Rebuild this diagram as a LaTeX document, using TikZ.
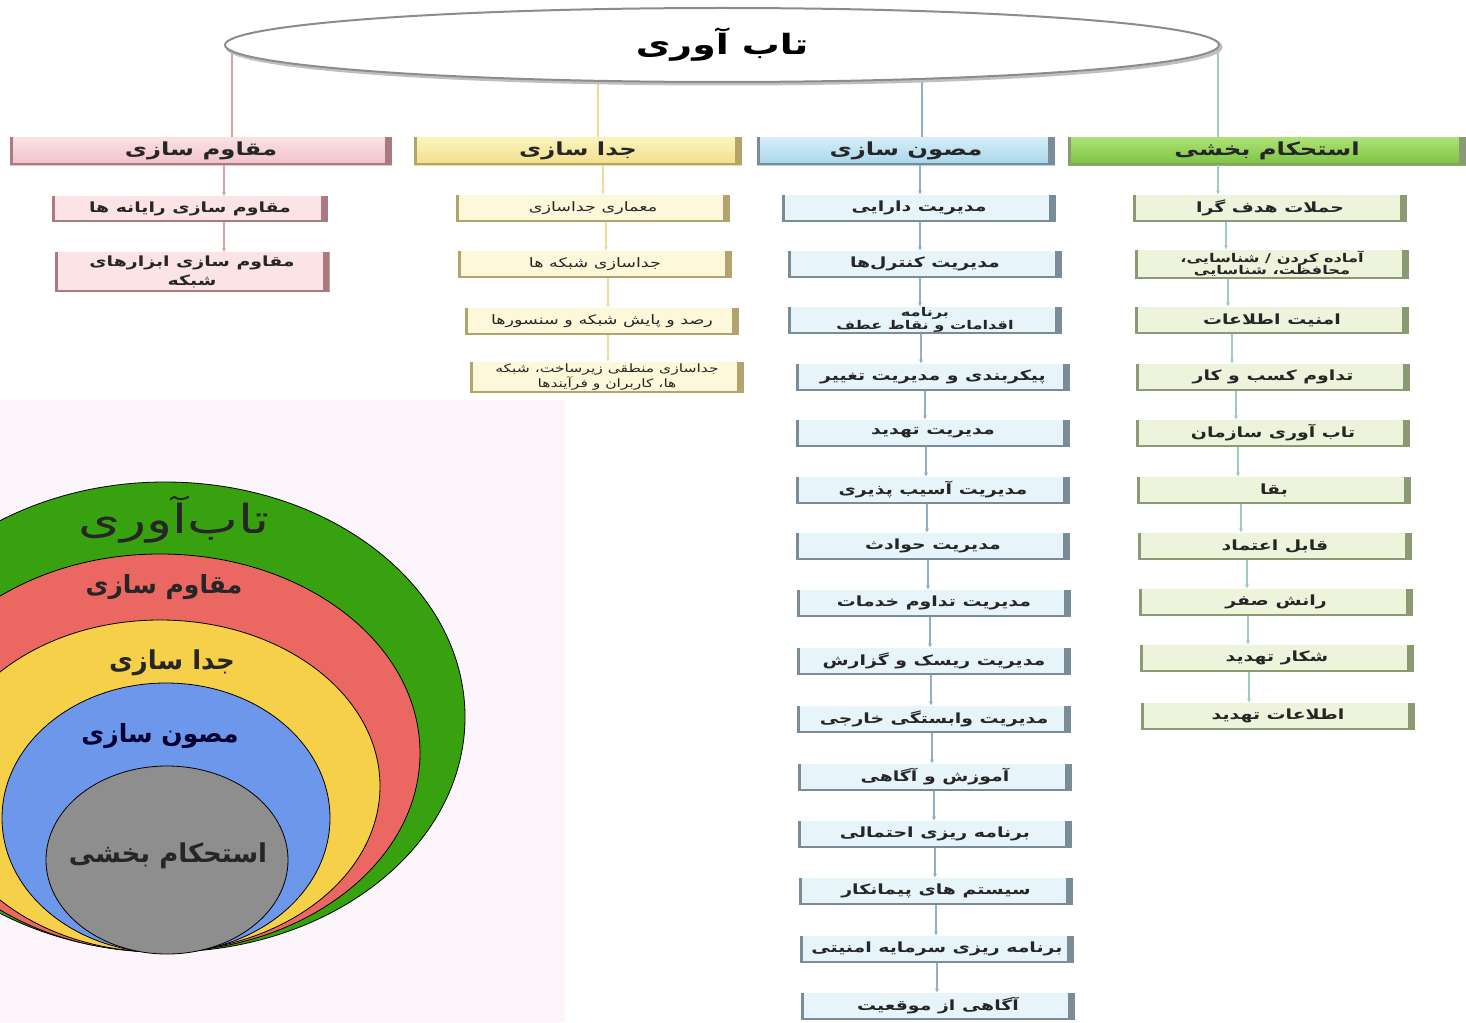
\documentclass[tikz,border=0pt]{standalone}
\usepackage{fontspec}
\usetikzlibrary{shapes.geometric, arrows.meta, backgrounds}
\TeXXeTstate=1
\newfontfamily\arabicfont[Script=Arabic]{DejaVu Sans}
\newfontfamily\widefont[Script=Arabic, FakeStretch=1.35]{DejaVu Sans}
\newcommand{\fatext}[1]{\beginR #1\endR}

\definecolor{pinkfill}{HTML}{FCE4E6}
\definecolor{pinktop}{HTML}{FBE1E4}
\definecolor{pinkbot}{HTML}{F0C2C8}
\definecolor{pinkedge}{HTML}{A97A80}
\definecolor{pinkline}{HTML}{DDA0A6}
\definecolor{yellowfill}{HTML}{FEF8DA}
\definecolor{yellowtop}{HTML}{FCF3BE}
\definecolor{yellowbot}{HTML}{F2DF8A}
\definecolor{yellowedge}{HTML}{B2A46C}
\definecolor{yellowline}{HTML}{EEDC9A}
\definecolor{bluefill}{HTML}{E7F5FB}
\definecolor{bluetop}{HTML}{D6EEF8}
\definecolor{bluebot}{HTML}{A8D5E9}
\definecolor{blueedge}{HTML}{7A8C98}
\definecolor{blueline}{HTML}{8FB0C8}
\definecolor{greenfill}{HTML}{EEF3DC}
\definecolor{greentop}{HTML}{AEE277}
\definecolor{greenbot}{HTML}{7CC242}
\definecolor{greenedge}{HTML}{8C9A74}
\definecolor{greenline}{HTML}{9FCBC4}
\definecolor{lavender}{HTML}{FCF5FB}
\definecolor{ringgreen}{HTML}{38A10F}
\definecolor{ringred}{HTML}{EA6861}
\definecolor{ringyellow}{HTML}{F7D04A}
\definecolor{ringblue}{HTML}{6D97EA}
\definecolor{ringgray}{HTML}{8E8E8E}

\tikzset{
  bevel/.style={path picture={
      \fill[#1] ([xshift=-7pt]path picture bounding box.north east) rectangle (path picture bounding box.south east);
      \fill[#1] (path picture bounding box.north west) rectangle ([xshift=3pt]path picture bounding box.south west);
      \fill[#1] (path picture bounding box.south west) rectangle ([yshift=2pt]path picture bounding box.south east);}},
  itembox/.style={rectangle, minimum height=27pt, minimum width=274pt, inner sep=2pt, align=center,
    text=black!85, font=\widefont\bfseries\fontsize{14}{15}\selectfont},
  twoline/.style={inner sep=0pt, font=\widefont\bfseries\fontsize{12}{12.5}\selectfont},
  headbox/.style={itembox, minimum height=28pt, font=\widefont\bfseries\fontsize{18}{20}\selectfont},
  pinkbox/.style={itembox, fill=pinkfill, bevel=pinkedge},
  yellowbox/.style={itembox, fill=yellowfill, bevel=yellowedge, font=\widefont\fontsize{13}{14}\selectfont},
  bluebox/.style={itembox, fill=bluefill, bevel=blueedge},
  greenbox/.style={itembox, fill=greenfill, bevel=greenedge},
  conn/.style={line width=1.2pt, -{Stealth[length=4pt,width=4pt]}},
  ringlabel/.style={text=black!85, font=\arabicfont\bfseries\fontsize{24}{26}\selectfont}
}

\begin{document}
\begin{tikzpicture}[x=1pt, y=-1pt]
  \useasboundingbox (0,0) rectangle (1466,1022);

  % title ellipse
  \node[ellipse, minimum width=994pt, minimum height=74pt, fill=white, draw=black!45, line width=2pt,
        preaction={draw=black!25, line width=3pt, transform canvas={xshift=2pt, yshift=-2pt}},
        font=\widefont\bfseries\fontsize{28}{30}\selectfont] (top) at (722,45) {\fatext{تاب آوری}};

  % column headers
  \node[headbox, minimum width=382pt, top color=pinktop, bottom color=pinkbot, bevel=pinkedge] (pinkhead) at (201,151) {\fatext{مقاوم سازی}};
  \node[headbox, minimum width=328pt, top color=yellowtop, bottom color=yellowbot, bevel=yellowedge] (yellowhead) at (578,151) {\fatext{جدا سازی}};
  \node[headbox, minimum width=298pt, top color=bluetop, bottom color=bluebot, bevel=blueedge] (bluehead) at (906,151) {\fatext{مصون سازی}};
  \node[headbox, minimum width=398pt, top color=greentop, bottom color=greenbot, bevel=greenedge] (greenhead) at (1267,151) {\fatext{استحکام بخشی}};

  % pink column
  \node[pinkbox, minimum width=276pt, minimum height=26pt] (pink1) at (190,209) {\fatext{مقاوم سازی رایانه ها}};
  \node[pinkbox, minimum width=275pt, minimum height=40pt, font=\widefont\bfseries\fontsize{14}{19}\selectfont] (pink2) at (192,272) {\fatext{مقاوم سازی ابزارهای}\\\fatext{شبکه}};

  % yellow column
  \node[yellowbox] (yellow1) at (593,208) {\fatext{معماری جداسازی}};
  \node[yellowbox] (yellow2) at (595,264) {\fatext{جداسازی شبکه ها}};
  \node[yellowbox] (yellow3) at (602,321) {\fatext{رصد و پایش شبکه و سنسورها}};
  \node[yellowbox, font=\widefont\fontsize{11.5}{12}\selectfont, minimum height=31pt] (yellow4) at (607,377) {\fatext{جداسازی منطقی زیرساخت، شبکه}\\\fatext{ها، کاربران و فرآیندها}};

  % blue column
  \node[bluebox] (blue1) at (919,208) {\fatext{مدیریت دارایی}};
  \node[bluebox] (blue2) at (925,264) {\fatext{مدیریت کنترل‌ها}};
  \node[bluebox, twoline] (blue3) at (925,320) {\fatext{برنامه}\\\fatext{اقدامات و نقاط عطف}};
  \foreach \i/\x/\y/\txt in {
      4/933/377/{پیکربندی و مدیریت تغییر},
      5/933/433/{مدیریت تهدید},
      6/933/490/{مدیریت آسیب پذیری},
      7/933/546/{مدیریت حوادث},
      8/934/603/{مدیریت تداوم خدمات},
      9/934/661/{مدیریت ریسک و گزارش},
      10/934/719/{مدیریت وابستگی خارجی},
      11/935/777/{آموزش و آگاهی},
      12/935/834/{برنامه ریزی احتمالی},
      13/936/891/{سیستم های پیمانکار},
      14/937/949/{برنامه ریزی سرمایه امنیتی},
      15/938/1006/{آگاهی از موقعیت}} {
    \node[bluebox] (blue\i) at (\x,\y) {\fatext{\txt}};
  }

  % green column
  \node[greenbox] (green1) at (1270,208) {\fatext{حملات هدف گرا}};
  \node[greenbox, twoline, minimum height=29pt] (green2) at (1272,264) {\fatext{آماده کردن / شناسایی،}\\\fatext{محافظت، شناسایی}};
  \foreach \i/\x/\y/\txt in {
      3/1272/320/{امنیت اطلاعات},
      4/1273/377/{تداوم کسب و کار},
      5/1273/433/{تاب آوری سازمان},
      6/1274/490/{بقا},
      7/1275/546/{قابل اعتماد},
      8/1276/602/{رانش صفر},
      9/1277/658/{شکار تهدید},
      10/1278/716/{اطلاعات تهدید}} {
    \node[greenbox] (green\i) at (\x,\y) {\fatext{\txt}};
  }

  % connectors inside the columns
  \foreach \a/\b/\x in {pinkhead/pink1/224, pink1/pink2/224}
    \draw[conn, pinkline] (\a.south -| \x,0) -- (\b.north -| \x,0);
  \foreach \a/\b/\x in {yellowhead/yellow1/603, yellow1/yellow2/606, yellow2/yellow3/608, yellow3/yellow4/608}
    \draw[conn, yellowline] (\a.south -| \x,0) -- (\b.north -| \x,0);
  \foreach \a/\b/\x in {bluehead/blue1/920, blue1/blue2/920, blue2/blue3/920, blue3/blue4/921,
      blue4/blue5/925, blue5/blue6/926, blue6/blue7/927, blue7/blue8/928, blue8/blue9/930,
      blue9/blue10/931, blue10/blue11/932, blue11/blue12/934, blue12/blue13/935, blue13/blue14/936, blue14/blue15/937}
    \draw[conn, blueline] (\a.south -| \x,0) -- (\b.north -| \x,0);
  \foreach \a/\b/\x in {greenhead/green1/1218, green1/green2/1226, green2/green3/1228, green3/green4/1232,
      green4/green5/1236, green5/green6/1238, green6/green7/1241, green7/green8/1247, green8/green9/1248, green9/green10/1249}
    \draw[conn, greenline] (\a.south -| \x,0) -- (\b.north -| \x,0);

  % stems from the title down to the headers
  \begin{scope}[on background layer]
    \fill[white] (0,0) rectangle (1466,1022);
    \draw[pinkline, line width=1.2pt] (pinkhead.north -| 232,0) -- (top.center -| 232,0);
    \draw[yellowline, line width=1.2pt] (yellowhead.north -| 598,0) -- (top.center -| 598,0);
    \draw[blueline, line width=1.2pt] (bluehead.north -| 922,0) -- (top.center -| 922,0);
    \draw[greenline, line width=1.2pt] (greenhead.north -| 1218,0) -- (top.center -| 1218,0);
  \end{scope}

  % nested rings
  \fill[lavender] (0,400) rectangle (565,1022);
  \begin{scope}
    \clip (0,400) rectangle (565,1022);
    \filldraw[fill=ringgreen, draw=black, line width=0.8pt] (165,717) ellipse [x radius=300, y radius=235];
    \filldraw[fill=ringred, draw=black, line width=0.8pt] (160,753) ellipse [x radius=260, y radius=199];
    \filldraw[fill=ringyellow, draw=black, line width=0.8pt] (160,786) ellipse [x radius=220, y radius=166];
    \filldraw[fill=ringblue, draw=black, line width=0.8pt] (166,818) ellipse [x radius=164, y radius=135];
    \filldraw[fill=ringgray, draw=black, line width=0.8pt] (167,860) ellipse [x radius=121, y radius=94];
  \end{scope}
  \node[text=black!85, font=\widefont\fontsize{40}{42}\selectfont] (ring1) at (174,520) {\fatext{تاب‌آوری}};
  \node[ringlabel, font=\arabicfont\bfseries\fontsize{25}{27}\selectfont] (ring2) at (164,587) {\fatext{مقاوم سازی}};
  \node[ringlabel, font=\arabicfont\bfseries\fontsize{26}{28}\selectfont] (ring3) at (172,663) {\fatext{جدا سازی}};
  \node[ringlabel, font=\arabicfont\bfseries\fontsize{25}{27}\selectfont, text=black!80!blue] (ring4) at (160,736) {\fatext{مصون سازی}};
  \node[ringlabel, font=\arabicfont\bfseries\fontsize{26}{28}\selectfont] (ring5) at (168,856) {\fatext{استحکام بخشی}};
\end{tikzpicture}
\end{document}
